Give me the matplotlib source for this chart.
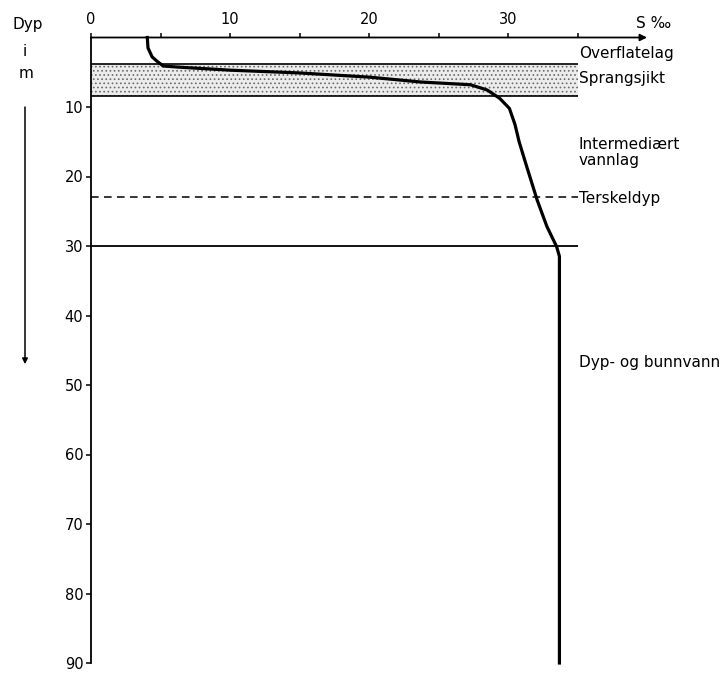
import matplotlib.pyplot as plt

# Salinity profile: S (per mille) against depth (m)
salinity = [4.05, 4.1, 4.4, 4.8, 5.2, 6.2, 10.0, 15.0, 20.0, 23.7, 27.3, 28.5,
            29.4, 30.1, 30.5, 30.8, 31.35, 32.1, 32.8, 33.5, 33.7, 33.7]
depth = [0.0, 1.5, 2.8, 3.5, 4.1, 4.25, 4.7, 5.1, 5.7, 6.4, 6.8, 7.55,
         8.75, 10.2, 12.5, 15.0, 18.6, 23.4, 27.2, 30.1, 31.5, 90.0]

# Layer boundaries (m)
sprang_top, sprang_bottom = 3.8, 8.4
terskel_depth = 23.0
deep_top = 30.0
layer_right = 35.0  # salinity where the layer lines stop

# Layer labels and the depth they sit at
layer_labels = ["Overflatelag", "Sprangsjikt", "Intermediært\nvannlag",
                "Terskeldyp", "Dyp- og bunnvann"]
layer_label_depths = [2.3, 5.9, 16.6, 23.1, 46.7]

x_ticks = [0, 5, 10, 15, 20, 25, 30, 35]
x_ticklabels = ["0", "", "10", "", "20", "", "30", ""]
y_ticks = [10, 20, 30, 40, 50, 60, 70, 80, 90]

plt.rcParams['font.family'] = ['DejaVu Sans']
plt.rcParams['hatch.linewidth'] = 0.7

fig = plt.figure(figsize=(7.25, 6.73), dpi=100)
ax = fig.add_axes([91 / 725, 1 - 663 / 673, 556 / 725, (663 - 37.5) / 673])
ax.set_xlim(0, 40)
ax.set_ylim(90, 0)

for side in ['top', 'right', 'bottom']:
    ax.spines[side].set_visible(False)
ax.spines['left'].set_linewidth(1.3)

# top axis with arrow
ax.annotate("", xy=(40, 0), xytext=(0, 0), xycoords='data',
            arrowprops=dict(arrowstyle='-|>', lw=1.3, color='k',
                            mutation_scale=10, shrinkA=0, shrinkB=0),
            annotation_clip=False)

ax.xaxis.tick_top()
ax.set_xticks(x_ticks)
ax.set_xticklabels(x_ticklabels)
ax.set_yticks(y_ticks)
ax.tick_params(axis='x', direction='out', length=3.5, width=1.1, pad=4, labelsize=10.5)
ax.tick_params(axis='y', direction='out', length=3.5, width=1.1, pad=2, labelsize=10.5)

# Sprangsjikt band (stippled)
ax.fill_between([0, layer_right], sprang_top, sprang_bottom, facecolor='#ececec',
                edgecolor='#6a6a6a', hatch='....', linewidth=0, zorder=1)
ax.hlines([sprang_top, sprang_bottom], 0, layer_right, colors='k', lw=1.2, zorder=2)

# threshold depth and deep-water boundary
ax.hlines(terskel_depth, 0, layer_right, colors='k', lw=1.1,
          linestyles=(0, (5, 3.5)), zorder=2)
ax.hlines(deep_top, 0, layer_right, colors='k', lw=1.3, zorder=2)

# salinity curve
ax.plot(salinity, depth, color='k', lw=2.3, solid_joinstyle='round', zorder=3,
        clip_on=False)

# layer labels on the right
for label, d in zip(layer_labels, layer_label_depths):
    ax.text(layer_right + 0.1, d, label, ha='left', va='center', fontsize=11,
            linespacing=1.1, clip_on=False)

ax.text(40.5, -2.0, "S ‰", ha='center', va='center', fontsize=11, clip_on=False)

# depth label and arrow on the left
fig.text(28 / 725, 1 - 24 / 673, "Dyp", ha='center', va='center', fontsize=11)
fig.text(25 / 725, 1 - 51 / 673, "i", ha='center', va='center', fontsize=11)
fig.text(26 / 725, 1 - 73 / 673, "m", ha='center', va='center', fontsize=11)
ax.annotate("", xy=(-66 / 556, 47), xytext=(-66 / 556, 10),
            xycoords=('axes fraction', 'data'), textcoords=('axes fraction', 'data'),
            arrowprops=dict(arrowstyle='-|>', lw=1.1, color='k',
                            mutation_scale=8, shrinkA=0, shrinkB=0),
            annotation_clip=False)

fig.savefig("out.png", dpi=100)
